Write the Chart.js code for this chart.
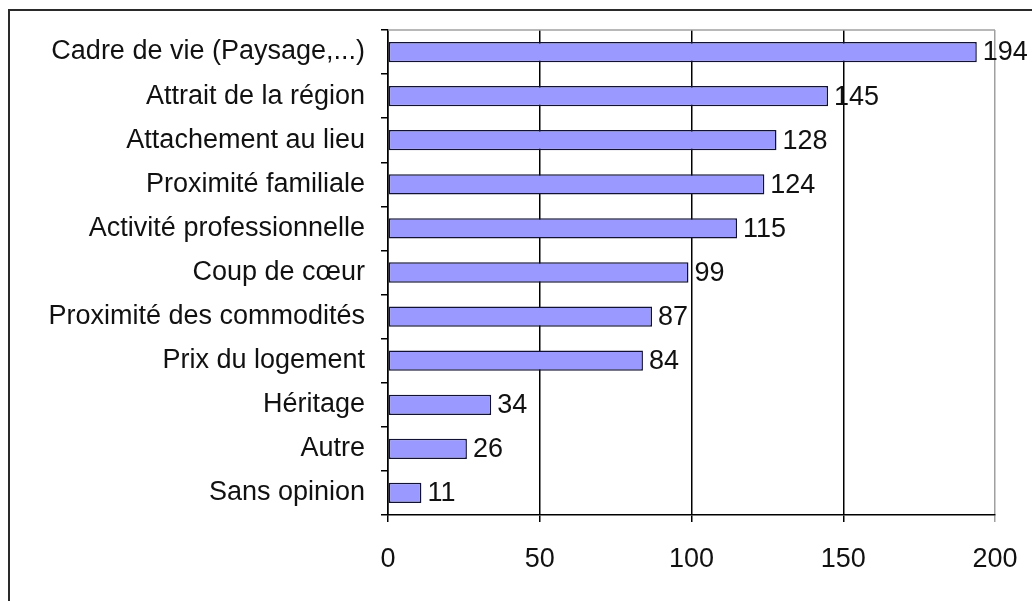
<!DOCTYPE html>
<html>
<head>
<meta charset="utf-8">
<script src="https://cdn.jsdelivr.net/npm/chart.js@4.4.0/dist/chart.umd.min.js"></script>
<style>
  html, body { margin: 0; padding: 0; background: #fff; }
  #wrap { width: 1032px; height: 601px; }
</style>
</head>
<body>
<div id="wrap"><canvas id="motifs"></canvas></div>
<script>
const categories = [
  'Cadre de vie (Paysage,...)',
  'Attrait de la région',
  'Attachement au lieu',
  'Proximité familiale',
  'Activité professionnelle',
  'Coup de cœur',
  'Proximité des commodités',
  'Prix du logement',
  'Héritage',
  'Autre',
  'Sans opinion'
];
const counts = [194, 145, 128, 124, 115, 99, 87, 84, 34, 26, 11];
const xTicks = [0, 50, 100, 150, 200];

const FONT = { family: '"Liberation Sans", Arial, sans-serif', size: 27 };

// outer frame, gray plot border on top, and value labels next to each bar
const decorations = {
  id: 'decorations',
  beforeDraw(chart) {
    const c = chart.ctx;
    c.save();
    c.strokeStyle = '#2a2a2a';
    c.lineWidth = 2;
    c.beginPath();
    c.moveTo(9, 601);
    c.lineTo(9, 10);
    c.lineTo(1032, 10);
    c.stroke();
    c.restore();
  },
  afterDatasetsDraw(chart) {
    const c = chart.ctx;
    const a = chart.chartArea;
    c.save();
    c.strokeStyle = '#a0a0a0';
    c.lineWidth = 1.5;
    c.beginPath();
    c.moveTo(a.left, a.top);
    c.lineTo(a.right, a.top);
    c.stroke();

    c.fillStyle = '#111';
    c.font = FONT.size + 'px ' + FONT.family;
    c.textAlign = 'left';
    c.textBaseline = 'middle';
    chart.getDatasetMeta(0).data.forEach((bar, i) => {
      c.fillText(String(counts[i]), bar.x + 6, bar.y + 1);
    });
    c.restore();
  }
};

new Chart(document.getElementById('motifs'), {
  type: 'bar',
  data: {
    labels: categories,
    datasets: [{
      data: counts,
      backgroundColor: '#9999ff',
      borderColor: '#111133',
      borderWidth: 1.5,
      borderSkipped: false,
      categoryPercentage: 1,
      barPercentage: 0.46
    }]
  },
  options: {
    indexAxis: 'y',
    responsive: true,
    maintainAspectRatio: false,
    animation: false,
    layout: { padding: { top: 30, right: 37, left: 0, bottom: 0 } },
    plugins: {
      legend: { display: false },
      tooltip: { enabled: false }
    },
    scales: {
      x: {
        type: 'linear',
        min: 0,
        max: 200,
        afterBuildTicks: (scale) => { scale.ticks = xTicks.map(v => ({ value: v })); },
        afterFit: (scale) => {
          scale.height = 86;
          scale.paddingLeft = 0;
          scale.paddingRight = 0;
        },
        border: { display: true, color: '#000', width: 1.5 },
        grid: {
          color: (ctx) => (ctx.tick && ctx.tick.value === 200 ? '#a0a0a0' : '#000'),
          lineWidth: 1.5,
          tickLength: 7
        },
        ticks: { color: '#111', font: FONT, padding: 21, maxRotation: 0 }
      },
      y: {
        afterFit: (scale) => {
          scale.width = 388;
          scale.paddingTop = 0;
          scale.paddingBottom = 0;
        },
        border: { display: true, color: '#000', width: 1.5 },
        grid: {
          drawOnChartArea: false,
          color: '#000',
          lineWidth: 1.5,
          tickLength: 7
        },
        ticks: { color: '#111', font: FONT, padding: 16, autoSkip: false }
      }
    }
  },
  plugins: [decorations]
});
</script>
</body>
</html>
